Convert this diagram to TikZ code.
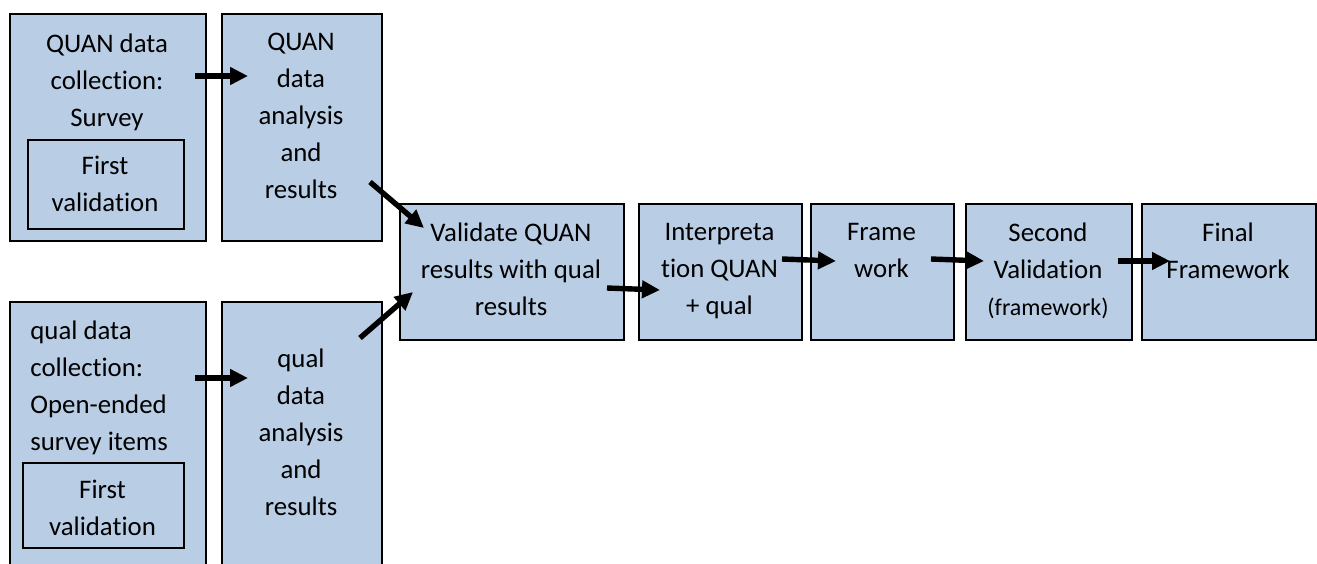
\documentclass[tikz,border=0pt]{standalone}
\usepackage{fontspec}
\setmainfont{Carlito}[Ligatures=NoCommon]
\usetikzlibrary{arrows.meta}
\definecolor{boxblue}{RGB}{185,205,229}
\begin{document}
\begin{tikzpicture}[x=0.5pt,y=-0.5pt,
  box/.style={draw=black, fill=boxblue, line width=1.2pt, inner sep=0pt, anchor=north west},
  inbox/.style={draw=black, line width=0.9pt, inner sep=0pt, anchor=north west},
  txt/.style={font=\fontsize{13.4}{18.5}\selectfont, align=center, anchor=north, inner sep=0pt},
  ltxt/.style={txt, align=left, anchor=north west},
  flow/.style={line width=2.7pt, -{Triangle[length=9pt,width=8.5pt]}}]
\useasboundingbox (0,0) rectangle (1317,563);
\clip (0,0) rectangle (1317,563);

% quantitative strand
\node[box, minimum width=98pt, minimum height=113.5pt] (qncol) at (9,13) {};
\node[inbox, minimum width=78pt, minimum height=44.5pt] (qnval) at (27,139) {};
\node[box, minimum width=80pt, minimum height=113.5pt] (qnana) at (221,13) {};
\node[txt] (qncolT) at (107,33) {QUAN data\\collection:\\Survey};
\node[txt] (qnvalT) at (105,156) {First\\validation};
\node[txt] (qnanaT) at (301,33) {QUAN\\data\\analysis\\and\\results};

% qualitative strand
\node[box, minimum width=98pt, minimum height=140pt] (qlcol) at (9,301) {};
\node[inbox, minimum width=80.5pt, minimum height=42.5pt] (qlval) at (22,462) {};
\node[box, minimum width=80pt, minimum height=140pt] (qlana) at (221,301) {};
\node[ltxt] (qlcolT) at (30,320) {qual data\\collection:\\Open-ended\\survey items};
\node[txt] (qlvalT) at (102.5,480) {First\\validation};
\node[txt] (qlanaT) at (301,348) {qual\\data\\analysis\\and\\results};

% merged steps
\node[box, minimum width=112pt, minimum height=68pt] (valid) at (399,203) {};
\node[box, minimum width=81.5pt, minimum height=68pt] (interp) at (638,203) {};
\node[box, minimum width=71.5pt, minimum height=68pt] (frame) at (810,203) {};
\node[box, minimum width=83pt, minimum height=68pt] (second) at (965,203) {};
\node[box, minimum width=87pt, minimum height=68pt] (final) at (1141,203) {};
\node[txt] (validT) at (511,222.5) {Validate QUAN\\results with qual\\results};
\node[txt] (interpT) at (719.5,222.5) {Interpreta\\tion QUAN\\+ qual};
\node[txt] (frameT) at (881.5,222.5) {Frame\\work};
\node[txt] (secondT) at (1048,222.5) {Second\\Validation\\{\fontsize{12}{18.5}\selectfont(framework)}};
\node[txt] (finalT) at (1228,222.5) {Final\\Framework};

% arrow end points
\coordinate (a1s) at (195,76);   \coordinate (a1e) at (248,76);
\coordinate (a2s) at (195,378);  \coordinate (a2e) at (248,378);
\coordinate (a3s) at (370,182);  \coordinate (a3e) at (424,228);
\coordinate (a4s) at (360,338);  \coordinate (a4e) at (413,292);
\coordinate (a5s) at (607,288);  \coordinate (a5e) at (660,290);
\coordinate (a6s) at (782,259);  \coordinate (a6e) at (836,261);
\coordinate (a7s) at (931,259);  \coordinate (a7e) at (984,261);
\coordinate (a8s) at (1118,261); \coordinate (a8e) at (1170,261);

\draw[flow] (a1s) -- (a1e);
\draw[flow] (a2s) -- (a2e);
\draw[flow] (a3s) -- (a3e);
\draw[flow] (a4s) -- (a4e);
\draw[flow] (a5s) -- (a5e);
\draw[flow] (a6s) -- (a6e);
\draw[flow] (a7s) -- (a7e);
\draw[flow] (a8s) -- (a8e);
\end{tikzpicture}
\end{document}
